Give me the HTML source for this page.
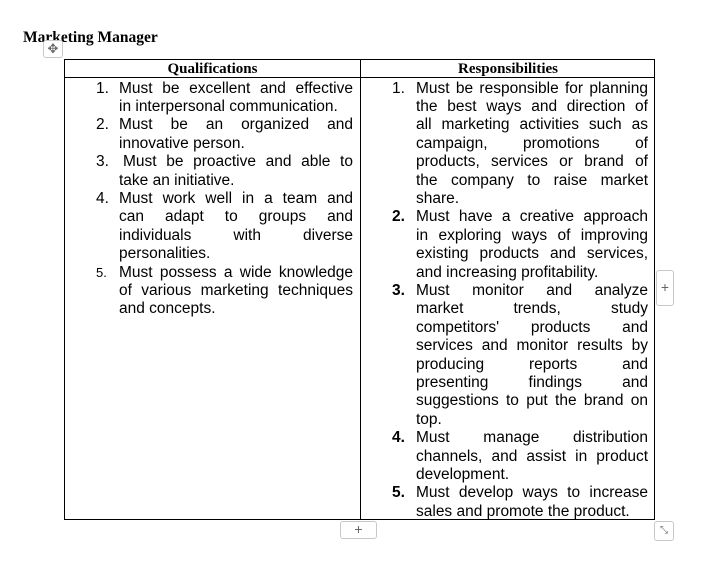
<!DOCTYPE html>
<html><head><meta charset="utf-8"><style>
body{margin:0;width:715px;height:570px;background:#fff;position:relative;overflow:hidden;font-family:"Liberation Sans",Arial,sans-serif;color:#000}
.a{position:absolute}
.l{position:absolute;font-size:15.5px;line-height:18px;white-space:nowrap;text-align:left;margin-top:1.5px}
.J{text-align:justify;text-align-last:justify;white-space:normal;height:18px;overflow:hidden}
.L1{left:119px;width:234px}
.R1{left:416px;width:232px}
.n{position:absolute;font-size:15.5px;line-height:18px;margin-top:1.5px}
.h{position:absolute;font-family:"Liberation Serif",serif;font-weight:bold;font-size:15px;text-align:center;line-height:18px}
.btn{position:absolute;border:1px solid #c8c8c8;border-radius:3px;background:#fff;color:#666;font-size:14px;text-align:center}
</style></head><body>
<div class="a" style="left:23px;top:29px;font-family:'Liberation Serif',serif;font-weight:bold;font-size:15.5px">Marketing Manager</div>
<div class="btn" style="left:43px;top:40px;width:18px;height:16px;line-height:15px;font-size:13px">✥</div>
<div class="a" style="left:64px;top:59px;width:591px;height:461px;border:1px solid #000;box-sizing:border-box"></div>
<div class="a" style="left:360px;top:59px;width:1px;height:461px;background:#000"></div>
<div class="a" style="left:64px;top:77px;width:591px;height:1px;background:#000"></div>
<div class="h" style="left:65px;top:60px;width:295px">Qualifications</div>
<div class="h" style="left:361px;top:60px;width:294px">Responsibilities</div>

<div class="n" style="left:96px;top:78px">1.</div>
<div class="l J L1" style="top:78px">Must be excellent and effective</div>
<div class="l L1" style="top:96.4px">in interpersonal communication.</div>
<div class="n" style="left:96px;top:114.8px">2.</div>
<div class="l J L1" style="top:114.8px">Must be an organized and</div>
<div class="l L1" style="top:133.2px">innovative person.</div>
<div class="n" style="left:96px;top:151.6px">3.</div>
<div class="l J" style="top:151.6px;left:123px;width:230px">Must be proactive and able to</div>
<div class="l L1" style="top:170px">take an initiative.</div>
<div class="n" style="left:96px;top:188.4px">4.</div>
<div class="l J L1" style="top:188.4px">Must work well in a team and</div>
<div class="l J L1" style="top:206.8px">can adapt to groups and</div>
<div class="l J L1" style="top:225.2px">individuals with diverse</div>
<div class="l L1" style="top:243.6px">personalities.</div>
<div class="n" style="left:96px;top:262px;font-size:13px">5.</div>
<div class="l J L1" style="top:262px">Must possess a wide knowledge</div>
<div class="l J L1" style="top:280.4px">of various marketing techniques</div>
<div class="l L1" style="top:298.8px">and concepts.</div>

<div class="n" style="left:392px;top:78px">1.</div>
<div class="l J R1" style="top:78px">Must be responsible for planning</div>
<div class="l J R1" style="top:96.4px">the best ways and direction of</div>
<div class="l J R1" style="top:114.8px">all marketing activities such as</div>
<div class="l J R1" style="top:133.2px">campaign, promotions of</div>
<div class="l J R1" style="top:151.6px">products, services or brand of</div>
<div class="l J R1" style="top:170px">the company to raise market</div>
<div class="l R1" style="top:188.4px">share.</div>
<div class="n" style="left:392px;top:206.8px;font-weight:bold">2.</div>
<div class="l J R1" style="top:206.8px">Must have a creative approach</div>
<div class="l J R1" style="top:225.2px">in exploring ways of improving</div>
<div class="l J R1" style="top:243.6px">existing products and services,</div>
<div class="l R1" style="top:262px">and increasing profitability.</div>
<div class="n" style="left:392px;top:280.4px;font-weight:bold">3.</div>
<div class="l J R1" style="top:280.4px">Must monitor and analyze</div>
<div class="l J R1" style="top:298.8px">market trends, study</div>
<div class="l J R1" style="top:317.2px">competitors' products and</div>
<div class="l J R1" style="top:335.6px">services and monitor results by</div>
<div class="l J R1" style="top:354px">producing reports and</div>
<div class="l J R1" style="top:372.4px">presenting findings and</div>
<div class="l J R1" style="top:390.8px">suggestions to put the brand on</div>
<div class="l R1" style="top:409.2px">top.</div>
<div class="n" style="left:392px;top:427.6px;font-weight:bold">4.</div>
<div class="l J R1" style="top:427.6px">Must manage distribution</div>
<div class="l J R1" style="top:446px">channels, and assist in product</div>
<div class="l R1" style="top:464.4px">development.</div>
<div class="n" style="left:392px;top:482.8px;font-weight:bold">5.</div>
<div class="l J R1" style="top:482.8px">Must develop ways to increase</div>
<div class="l R1" style="top:501.2px">sales and promote the product.</div>

<div class="btn" style="left:656px;top:270px;width:16px;height:34px;line-height:33px">+</div>
<div class="btn" style="left:340px;top:521px;width:35px;height:16px;line-height:15px">+</div>
<div class="btn" style="left:654px;top:521px;width:18px;height:18px;line-height:17px;font-size:10px">⤡</div>
</body></html>
